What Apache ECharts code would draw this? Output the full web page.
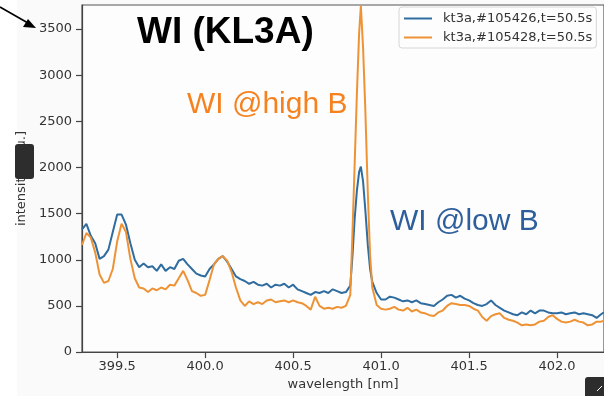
<!DOCTYPE html>
<html>
<head>
<meta charset="utf-8">
<script src="https://cdn.jsdelivr.net/npm/echarts@6/dist/echarts.min.js"></script>
<style>
html,body{margin:0;padding:0;background:#fafafa;}
#c{width:604px;height:396px;}
</style>
</head>
<body>
<div id="c"></div>
<script>
// wavelength grid [nm]
const wavelength = [
399.300,399.325,399.350,399.375,399.400,399.425,399.450,399.475,399.500,399.525,
399.550,399.575,399.600,399.625,399.650,399.675,399.700,399.725,399.750,399.775,
399.800,399.825,399.850,399.875,399.900,399.925,399.950,399.975,400.000,400.025,
400.050,400.075,400.100,400.125,400.150,400.175,400.200,400.225,400.250,400.275,
400.300,400.325,400.350,400.375,400.400,400.425,400.450,400.475,400.500,400.525,
400.550,400.575,400.600,400.625,400.650,400.675,400.700,400.725,400.750,400.775,
400.800,400.825,400.8375,400.850,400.8625,400.875,400.885,400.8975,400.910,400.925,
400.9375,400.950,400.975,401.000,401.025,401.050,401.075,401.100,401.125,401.150,
401.175,401.200,401.225,401.250,401.275,401.300,401.325,401.350,401.375,401.400,
401.425,401.450,401.475,401.500,401.525,401.550,401.575,401.600,401.625,401.650,
401.675,401.700,401.725,401.750,401.775,401.800,401.825,401.850,401.875,401.900,
401.925,401.950,401.975,402.000,402.025,402.050,402.075,402.100,402.125,402.150,
402.175,402.200,402.225,402.250,402.267
];
// kt3a,#105426 (low B)
const shot105426 = [
1330,1390,1260,1180,1010,1040,1110,1300,1490,1490,
1380,1180,1000,920,960,920,930,880,950,880,
920,900,990,1010,950,900,850,830,820,900,
950,1010,1040,980,900,820,790,770,740,760,
730,720,740,700,730,720,740,700,730,680,
660,640,620,650,640,660,640,680,660,640,
650,720,1050,1450,1750,1950,2010,1850,1550,1150,
900,760,640,570,570,600,590,570,550,560,
540,560,530,520,510,500,540,570,610,620,
590,610,580,560,530,510,500,520,560,510,
480,450,430,410,400,430,410,450,420,450,
450,430,420,420,430,410,420,430,410,420,
410,400,370,410,430
];
// kt3a,#105428 (high B)
const shot105428 = [
1160,1290,1240,1080,840,750,770,900,1200,1390,
1300,1010,800,700,690,650,690,670,700,680,
730,720,800,880,780,660,640,610,620,780,
950,1010,1040,990,870,700,560,500,550,520,
540,520,560,570,540,550,560,540,560,540,
530,500,460,600,500,470,480,470,490,480,
500,620,1300,2050,2800,3450,3750,3300,2650,1700,
1050,700,510,470,460,470,490,460,450,480,
440,460,430,420,400,390,430,450,500,530,
520,510,510,500,470,450,380,340,390,410,
420,370,350,340,320,290,300,290,300,330,
340,380,400,360,330,320,330,350,330,320,
290,300,330,330,340
];
const xTicks = [399.5, 400.0, 400.5, 401.0, 401.5, 402.0];
const yTicks = [0, 500, 1000, 1500, 2000, 2500, 3000, 3500];
const seriesNames = ['kt3a,#105426,t=50.5s', 'kt3a,#105428,t=50.5s'];

const chart = echarts.init(document.getElementById('c'), null, {renderer: 'canvas'});
const font = 'DejaVu Sans';
const axisCommon = {
  axisLine: {show: true, lineStyle: {color: '#444', width: 1.2}},
  splitLine: {show: false},
};
chart.setOption({
  backgroundColor: '#fafafa',
  animation: false,
  grid: {left: 82, top: 5, right: -2, bottom: 42, show: true, borderColor: '#555', borderWidth: 1.2, backgroundColor: '#fdfdfd'},
  legend: {
    orient: 'vertical', left: 399, top: 7,
    padding: [5, 4, 4, 5], itemGap: 6,
    itemWidth: 28, itemHeight: 2, icon: 'rect',
    borderColor: '#d6d6d6', borderWidth: 1, borderRadius: 3,
    backgroundColor: '#fdfdfd',
    textStyle: {fontFamily: font, fontSize: 13, color: '#333', padding: [0, 0, 0, 6]},
    data: seriesNames
  },
  xAxis: Object.assign({
    type: 'value', min: 399.30, max: 402.267,
    name: 'wavelength [nm]', nameLocation: 'middle', nameGap: 25,
    nameTextStyle: {fontFamily: font, fontSize: 13, color: '#333'},
    axisLabel: {customValues: xTicks, fontFamily: font, fontSize: 13, color: '#333', margin: 8,
      formatter: v => v.toFixed(1)},
    axisTick: {show: true, customValues: xTicks, length: 6, lineStyle: {color: '#444', width: 1.2}}
  }, axisCommon),
  yAxis: Object.assign({
    type: 'value', min: 0, max: 3760,
    name: 'intensity [a.u.]', nameLocation: 'middle', nameGap: 53,
    nameTextStyle: {fontFamily: font, fontSize: 13, color: '#333'},
    axisLabel: {customValues: yTicks, fontFamily: font, fontSize: 13, color: '#333', margin: 10,
      formatter: v => String(v)},
    axisTick: {show: true, customValues: yTicks, length: 6, lineStyle: {color: '#444', width: 1.2}}
  }, axisCommon),
  series: [
    {name: seriesNames[0], type: 'line', symbol: 'none', color: '#2f6c9f',
     lineStyle: {width: 2, color: '#2f6c9f'},
     data: wavelength.map((w, i) => [w, shot105426[i]])},
    {name: seriesNames[1], type: 'line', symbol: 'none', color: '#ee9335',
     lineStyle: {width: 2, color: '#ee9335'},
     data: wavelength.map((w, i) => [w, shot105428[i]])}
  ],
  graphic: [
    {type: 'rect', left: 0, top: 0, shape: {width: 17, height: 396}, style: {fill: '#ffffff'}, z: -1},
    {type: 'text', left: 137, top: 14, style: {text: 'WI (KL3A)', font: 'bold 37px "Liberation Sans"', fill: '#000'}, z: 10},
    {type: 'text', left: 187, top: 90, style: {text: 'WI @high B', font: '30px "Liberation Sans"', fill: '#f5821f'}, z: 10},
    {type: 'text', left: 390, top: 207, style: {text: 'WI @low B', font: '30px "Liberation Sans"', fill: '#2e5f9c'}, z: 10},
    {type: 'line', shape: {x1: 0, y1: 7, x2: 28, y2: 23}, style: {stroke: '#000', lineWidth: 1.6}, z: 10},
    {type: 'polygon', shape: {points: [[36, 28], [23, 27], [28, 19]]}, style: {fill: '#000'}, z: 10},
    {type: 'rect', shape: {x: 15, y: 144, width: 19, height: 35, r: 3}, style: {fill: '#2d2d2d'}, z: 10},
    {type: 'rect', shape: {x: 585, y: 377, width: 24, height: 24, r: 3}, style: {fill: '#2d2d2d'}, z: 10},
    {type: 'line', shape: {x1: 597, y1: 391, x2: 602, y2: 386}, style: {stroke: '#fff', lineWidth: 1}, z: 11}
  ]
});
</script>
</body>
</html>
